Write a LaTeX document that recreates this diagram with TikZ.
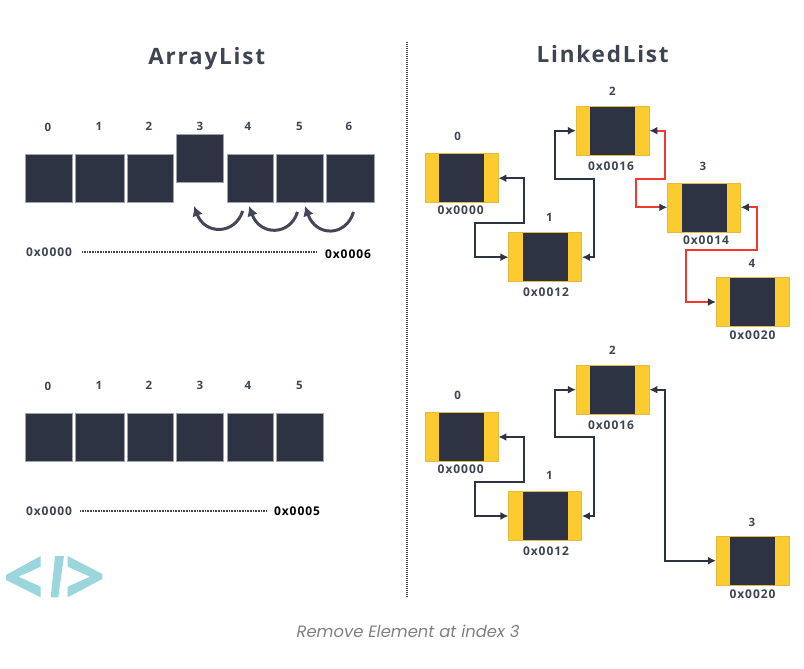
\documentclass[tikz,border=0pt]{standalone}
\usepackage{fontspec}
\newfontfamily\labfont[LetterSpace=8]{Open Sans}
\newfontfamily\capfont{Poppins}
\usetikzlibrary{arrows.meta}
\definecolor{celldark}{HTML}{2E3344}
\definecolor{cellyellow}{HTML}{FBCB30}
\definecolor{linkred}{HTML}{F03A30}
\definecolor{logoteal}{HTML}{9AD6DB}
\definecolor{labgray}{HTML}{3E4452}
\tikzset{
  cell/.style={fill=celldark,draw=celldark!45,line width=0.5pt,minimum height=48pt,inner sep=0pt},
  linkbox/.style={fill=cellyellow,draw=cellyellow!80!gray,line width=0.5pt,minimum width=73pt,minimum height=49pt,inner sep=0pt,
    path picture={\fill[celldark] ([xshift=14pt]path picture bounding box.south west) rectangle ([xshift=-14pt]path picture bounding box.north east);}},
  idxtext/.style={font=\labfont\bfseries\fontsize{11.5}{13}\selectfont,text=labgray,inner sep=0pt},
  addrtext/.style={font=\labfont\bfseries\fontsize{12}{14}\selectfont,text=labgray,inner sep=0pt},
  titletext/.style={font=\labfont\bfseries\fontsize{22.5}{27}\selectfont,text=labgray,inner sep=0pt},
  darklink/.style={{Latex[length=8pt,width=8pt]}-{Latex[length=8pt,width=8pt]},draw=celldark,line width=2pt},
  redlink/.style={{Latex[length=8pt,width=8pt,color=celldark]}-{Latex[length=8pt,width=8pt,color=celldark]},draw=linkred,line width=2pt},
  shift arrow/.style={-{Latex[length=10pt,width=11pt]},draw=celldark!90,line width=3pt},
  dotline/.style={draw=labgray,line width=1.2pt,dash pattern=on 1pt off 0.6pt}
}
\begin{document}
\begin{tikzpicture}[x=1pt,y=-1pt]
\useasboundingbox (0,0) rectangle (804,669);
% Titulos
\node[titletext] (arraytitle) at (206.7,59) {ArrayList};
\node[titletext] (linkedtitle) at (602.7,54) {LinkedList};
% Linha central
\coordinate (midtop) at (407,42);
\coordinate (midbot) at (407,598);
\draw[draw=labgray,line width=1.1pt,dash pattern=on 1pt off 1pt] (midtop) -- (midbot);
% ArrayList de cima
\node[cell,minimum width=47.5pt] (c0) at (48.75,178.2) {};
\node[cell,minimum width=49.5pt] (c1) at (99.75,178.2) {};
\node[cell,minimum width=46.5pt] (c2) at (150.25,178.2) {};
\node[cell,minimum width=47.5pt] (c3) at (199.75,158) {};
\node[cell,minimum width=46.5pt] (c4) at (250.25,178.2) {};
\node[cell,minimum width=47pt] (c5) at (299.5,178.2) {};
\node[cell,minimum width=48pt] (c6) at (350,178.2) {};
\node[idxtext] (ci0) at (48,127.5) {0};
\node[idxtext] (ci1) at (99,126.5) {1};
\node[idxtext] (ci2) at (149,126.5) {2};
\node[idxtext] (ci3) at (200,126.5) {3};
\node[idxtext] (ci4) at (248,126.5) {4};
\node[idxtext] (ci5) at (299.5,126.5) {5};
\node[idxtext] (ci6) at (349,126.5) {6};
% Setas de deslocamento
\coordinate (s4) at (242.7,211);
\coordinate (t3) at (194,206);
\coordinate (s5) at (297.5,212);
\coordinate (t4) at (249,206);
\coordinate (s6) at (353.5,212);
\coordinate (t5) at (305,206);
\draw[shift arrow] (s4) .. controls (235,235) and (205,235) .. (t3);
\draw[shift arrow] (s5) .. controls (290,236) and (260,236) .. (t4);
\draw[shift arrow] (s6) .. controls (346,237) and (316,237) .. (t5);
% Enderecos
\node[addrtext] (cfirst) at (49,252) {0x0000};
\node[addrtext,text=black] (clast) at (348,254) {0x0006};
\draw[dotline,shorten <=10pt,shorten >=32pt] (cfirst) -- (clast |- cfirst);
% ArrayList de baixo
\node[cell,minimum width=47.5pt] (d0) at (48.75,437.2) {};
\node[cell,minimum width=49.5pt] (d1) at (99.75,437.2) {};
\node[cell,minimum width=46.5pt] (d2) at (150.25,437.2) {};
\node[cell,minimum width=47.5pt] (d3) at (199.75,437.2) {};
\node[cell,minimum width=46.5pt] (d4) at (250.25,437.2) {};
\node[cell,minimum width=47pt] (d5) at (299.5,437.2) {};
\node[idxtext] (di0) at (48,386) {0};
\node[idxtext] (di1) at (99,385) {1};
\node[idxtext] (di2) at (149,385) {2};
\node[idxtext] (di3) at (200,385.5) {3};
\node[idxtext] (di4) at (248,385.5) {4};
\node[idxtext] (di5) at (299.5,385) {5};
\node[addrtext] (dfirst) at (49,511) {0x0000};
\node[addrtext,text=black] (dlast) at (297,511) {0x0005};
\draw[dotline,shorten <=8pt,shorten >=7.5pt] (dfirst) -- (dlast);
% Logo
\fill[logoteal] (40.7,556) -- (6,575) -- (6,580) -- (40.7,597.3) -- (40.7,586.7) -- (18.3,576.7) -- (40.7,566.7) -- cycle;
\fill[logoteal] (55,556) -- (64,556) -- (58.3,597.3) -- (50.7,597.3) -- cycle;
\fill[logoteal] (67.7,556) -- (102.3,574) -- (102.3,579) -- (67.7,597.3) -- (67.7,586.7) -- (90,576.7) -- (67.7,566.7) -- cycle;
% LinkedList de cima
\node[linkbox] (a0) at (461.7,178.2) {};
\node[linkbox] (a1) at (545.2,257.2) {};
\node[linkbox] (a2) at (612.7,130.7) {};
\node[linkbox] (a3) at (704,207.3) {};
\node[linkbox] (a4) at (752.7,302) {};
\node[idxtext] (ai0) at (457.7,136.5) {0};
\node[idxtext] (ai1) at (549.5,217) {1};
\node[idxtext] (ai2) at (612.5,91) {2};
\node[idxtext] (ai3) at (703,166) {3};
\node[idxtext] (ai4) at (752,263.5) {4};
\node[addrtext] (aa0) at (460.7,210) {0x0000};
\node[addrtext] (aa1) at (546,292.5) {0x0012};
\node[addrtext] (aa2) at (611,166) {0x0016};
\node[addrtext] (aa3) at (706,240.5) {0x0014};
\node[addrtext] (aa4) at (752.5,335) {0x0020};
\draw[darklink] (a0.east) -| (524.3,223) -- (475,223) |- (a1.west);
\draw[darklink] (a1.east) -| (594,179) -- (555,179) |- (a2.west);
\draw[redlink] (a2.east) -| (665,179) -- (636,179) |- (a3.west);
\draw[redlink] (a3.east) -| (756.7,250) -- (686,250) |- (a4.west);
% LinkedList de baixo
\node[linkbox] (b0) at (461.7,437) {};
\node[linkbox] (b1) at (545.2,516) {};
\node[linkbox] (b2) at (612.7,389.7) {};
\node[linkbox] (b3) at (752.7,560.7) {};
\node[idxtext] (bi0) at (457.7,395) {0};
\node[idxtext] (bi1) at (549.5,475.5) {1};
\node[idxtext] (bi2) at (612.5,350) {2};
\node[idxtext] (bi3) at (752,522) {3};
\node[addrtext] (ba0) at (460.7,469) {0x0000};
\node[addrtext] (ba1) at (546,551.5) {0x0012};
\node[addrtext] (ba2) at (611,425) {0x0016};
\node[addrtext] (ba3) at (752.5,594) {0x0020};
\draw[darklink] (b0.east) -| (524.3,481.7) -- (475,481.7) |- (b1.west);
\draw[darklink] (b1.east) -| (594,437.3) -- (555,437.3) |- (b2.west);
\draw[darklink] (b2.east) -| (665,560.7) -- (b3.west);
% Legenda
\node[font=\capfont\itshape\fontsize{16.4}{19}\selectfont,text=gray,inner sep=0pt] (caption) at (408,631) {Remove Element at index 3};
\end{tikzpicture}
\end{document}
